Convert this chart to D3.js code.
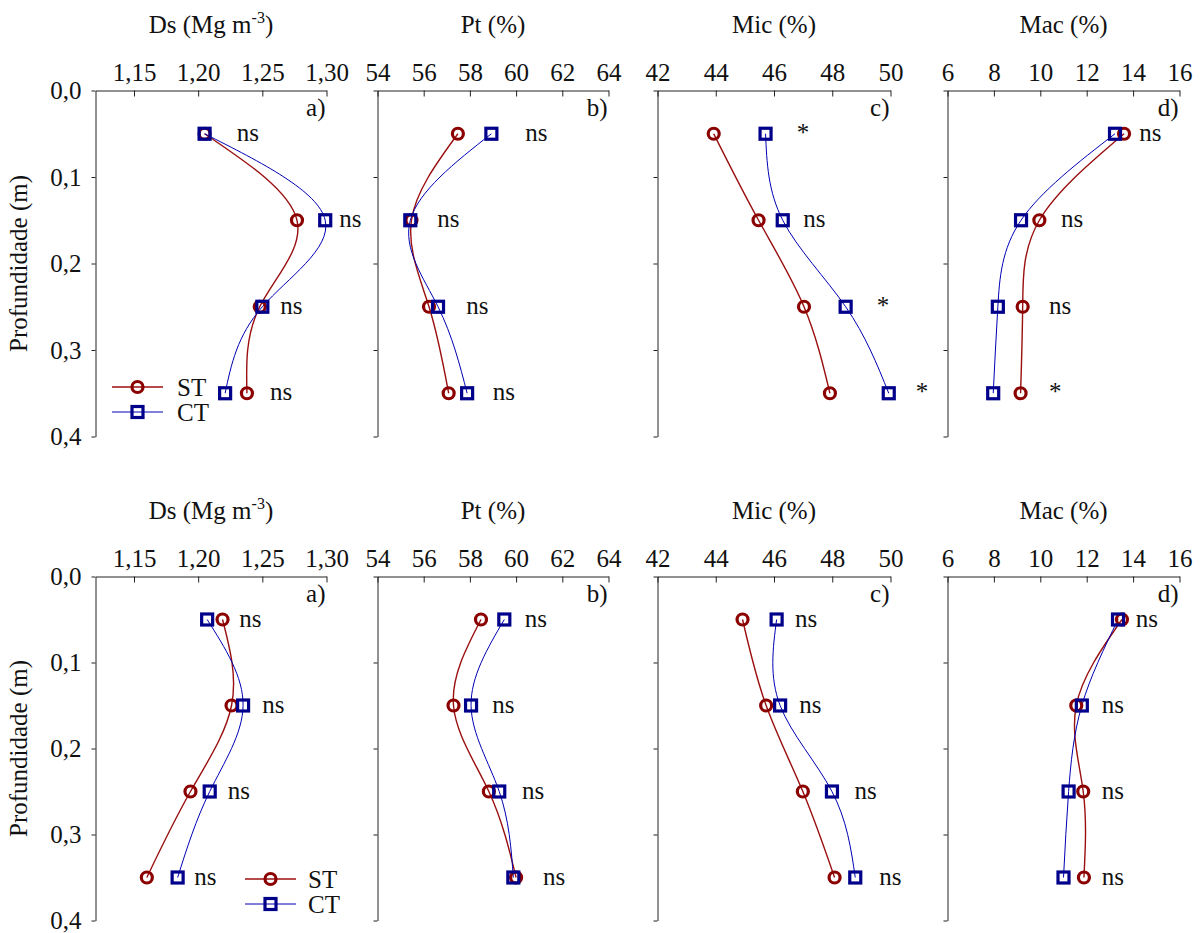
<!DOCTYPE html>
<html>
<head>
<meta charset="utf-8">
<script src="https://cdn.jsdelivr.net/npm/d3@7"></script>
<style>
  html, body { margin: 0; padding: 0; background: #fff; }
</style>
</head>
<body>
<svg id="chart" width="1203" height="933"></svg>
<script>
// Sampling depths (m) and depth axis
const depths = [0.05, 0.15, 0.25, 0.35];
const depthTicks = [0, 0.1, 0.2, 0.3, 0.4];

// Variables shown in each column
const varTitles = ["Ds", "Pt (%)", "Mic (%)", "Mac (%)"];
const varLetters = ["a)", "b)", "c)", "d)"];
const varDomains = [[1.12, 1.30], [54, 64], [42, 50], [6, 16]];
const dsTicks = [1.15, 1.20, 1.25, 1.30];
const ptTicks = [54, 56, 58, 60, 62, 64];
const micTicks = [42, 44, 46, 48, 50];
const macTicks = [6, 8, 10, 12, 14, 16];

// Treatments
const treatments = ["ST", "CT"];

// First row of panels
const dsST1 = [1.205, 1.277, 1.248, 1.238];
const dsCT1 = [1.205, 1.299, 1.250, 1.221];
const ptST1 = [57.48, 55.47, 56.23, 57.08];
const ptCT1 = [58.93, 55.42, 56.62, 57.88];
const micST1 = [43.93, 45.47, 47.03, 47.92];
const micCT1 = [45.71, 46.30, 48.46, 49.94];
const macST1 = [13.61, 9.96, 9.24, 9.15];
const macCT1 = [13.22, 9.17, 8.17, 7.97];

// Second row of panels
const dsST2 = [1.219, 1.226, 1.194, 1.160];
const dsCT2 = [1.207, 1.235, 1.209, 1.184];
const ptST2 = [58.48, 57.29, 58.82, 60.00];
const ptCT2 = [59.49, 58.05, 59.27, 59.88];
const micST2 = [44.92, 45.73, 46.99, 48.08];
const micCT2 = [46.09, 46.21, 47.99, 48.79];
const macST2 = [13.52, 11.55, 11.85, 11.88];
const macCT2 = [13.35, 11.79, 11.22, 11.00];

// Significance marks per depth
const dsSig1 = ["ns", "ns", "ns", "ns"];
const ptSig1 = ["ns", "ns", "ns", "ns"];
const micSig1 = ["*", "ns", "*", "*"];
const macSig1 = ["ns", "ns", "ns", "*"];
const dsSig2 = ["ns", "ns", "ns", "ns"];
const ptSig2 = ["ns", "ns", "ns", "ns"];
const micSig2 = ["ns", "ns", "ns", "ns"];
const macSig2 = ["ns", "ns", "ns", "ns"];

// Where each significance mark sits, in the panel's own units
const dsSigAt1 = [1.230, 1.310, 1.264, 1.256];
const ptSigAt1 = [60.40, 56.59, 57.84, 58.99];
const micSigAt1 = [46.78, 47.00, 49.53, 50.87];
const macSigAt1 = [14.27, 10.89, 10.37, 10.37];
const dsSigAt2 = [1.232, 1.250, 1.223, 1.197];
const ptSigAt2 = [60.37, 58.97, 60.25, 61.16];
const micSigAt2 = [46.72, 46.87, 48.76, 49.61];
const macSigAt2 = [14.11, 12.65, 12.65, 12.65];

const tickSets = [dsTicks, ptTicks, micTicks, macTicks];
const rowsST = [[dsST1, ptST1, micST1, macST1], [dsST2, ptST2, micST2, macST2]];
const rowsCT = [[dsCT1, ptCT1, micCT1, macCT1], [dsCT2, ptCT2, micCT2, macCT2]];
const rowsSig = [[dsSig1, ptSig1, micSig1, macSig1], [dsSig2, ptSig2, micSig2, macSig2]];
const rowsSigAt = [[dsSigAt1, ptSigAt1, micSigAt1, macSigAt1], [dsSigAt2, ptSigAt2, micSigAt2, macSigAt2]];

// Layout
const panelX = [[95.5, 326.5], [377.5, 608.5], [657.5, 890.5], [947.5, 1179.5]];
const rowY = [[90.5, 436.5], [576.5, 920.5]];
const legendPos = [{x0: 112, x1: 163, y: 387, tx: 177}, {x0: 245, x1: 296, y: 879, tx: 308}];

const colST = "#8b0000", colCT = "#00008b";
const lineST = "#9a0f0f", lineCT = "#0000b4";
const FS = 25;
const FONT = "'Liberation Serif', 'Times New Roman', serif";

const svg = d3.select("#chart");
const comma = v => v.toFixed(2).replace(".", ",");
const commaInt = v => String(v);
const depthFmt = v => v.toFixed(1).replace(".", ",");

function txt(sel) {
  return sel.style("font-family", FONT).attr("font-size", FS).attr("fill", "#111");
}
function drawCircle(g, x, y) {
  g.append("circle").attr("cx", x).attr("cy", y).attr("r", 5.5)
    .attr("fill", "none").attr("stroke", colST).attr("stroke-width", 3.2);
}
function drawSquare(g, x, y) {
  g.append("rect").attr("x", x - 5.5).attr("y", y - 5.5).attr("width", 11).attr("height", 11)
    .attr("fill", "none").attr("stroke", colCT).attr("stroke-width", 3.2);
}

rowY.forEach((yr, r) => {
  const y = d3.scaleLinear().domain([0, 0.4]).range(yr);

  panelX.forEach((xr, c) => {
    const x = d3.scaleLinear().domain(varDomains[c]).range(xr);
    const g = svg.append("g");

    // Column title
    const title = txt(g.append("text"))
      .attr("x", (xr[0] + xr[1]) / 2).attr("y", yr[0] - 57.5)
      .attr("text-anchor", "middle");
    if (c === 0) {
      title.append("tspan").text("Ds (Mg m");
      title.append("tspan").text("-3").attr("font-size", 16).attr("dy", -10);
      title.append("tspan").text(")").attr("dy", 10);
    } else {
      title.text(varTitles[c]);
    }

    // Top value axis, ticks pointing into the panel
    const top = d3.axisTop(x).tickValues(tickSets[c])
      .tickFormat(c === 0 ? comma : commaInt)
      .tickSizeInner(-6).tickSizeOuter(0).tickPadding(10);
    const gt = g.append("g").attr("transform", `translate(0,${yr[0]})`).call(top);
    txt(gt.selectAll("text"));
    gt.selectAll("path, line").attr("stroke", "#222");

    // Left depth axis
    const left = d3.axisLeft(y).tickValues(depthTicks)
      .tickFormat(c === 0 ? depthFmt : () => "")
      .tickSizeInner(4).tickSizeOuter(0).tickPadding(10);
    const gl = g.append("g").attr("transform", `translate(${xr[0]},0)`).call(left);
    txt(gl.selectAll("text"));
    gl.selectAll("path, line").attr("stroke", "#222");

    // Panel letter
    txt(g.append("text")).attr("x", xr[1] - 1).attr("y", yr[0] + 25.5)
      .attr("text-anchor", "end").text(varLetters[c]);

    // Profiles
    const st = rowsST[r][c], ct = rowsCT[r][c];
    const line = d3.line().x(d => x(d[0])).y(d => y(d[1])).curve(d3.curveNatural);
    g.append("path").attr("d", line(st.map((v, i) => [v, depths[i]])))
      .attr("fill", "none").attr("stroke", lineST).attr("stroke-width", 1.4);
    g.append("path").attr("d", line(ct.map((v, i) => [v, depths[i]])))
      .attr("fill", "none").attr("stroke", lineCT).attr("stroke-width", 1);
    st.forEach((v, i) => drawCircle(g, x(v), y(depths[i])));
    ct.forEach((v, i) => drawSquare(g, x(v), y(depths[i])));

    // Significance marks
    rowsSig[r][c].forEach((s, i) => {
      txt(g.append("text")).attr("x", x(rowsSigAt[r][c][i])).attr("y", y(depths[i]) + 7)
        .text(s);
    });
  });

  // Depth axis title
  txt(svg.append("text"))
    .attr("transform", `translate(27,${(yr[0] + yr[1]) / 2}) rotate(-90)`)
    .attr("text-anchor", "middle").text("Profundidade (m)");

  // Legend
  const lp = legendPos[r];
  const lg = svg.append("g");
  treatments.forEach((t, i) => {
    const ly = lp.y + i * 25;
    lg.append("line").attr("x1", lp.x0).attr("x2", lp.x1).attr("y1", ly).attr("y2", ly)
      .attr("stroke", i === 0 ? lineST : lineCT).attr("stroke-width", i === 0 ? 1.4 : 1);
    if (i === 0) drawCircle(lg, (lp.x0 + lp.x1) / 2, ly);
    else drawSquare(lg, (lp.x0 + lp.x1) / 2, ly);
    txt(lg.append("text")).attr("x", lp.tx).attr("y", ly).attr("dy", "0.35em").text(t);
  });
});
</script>
</body>
</html>
